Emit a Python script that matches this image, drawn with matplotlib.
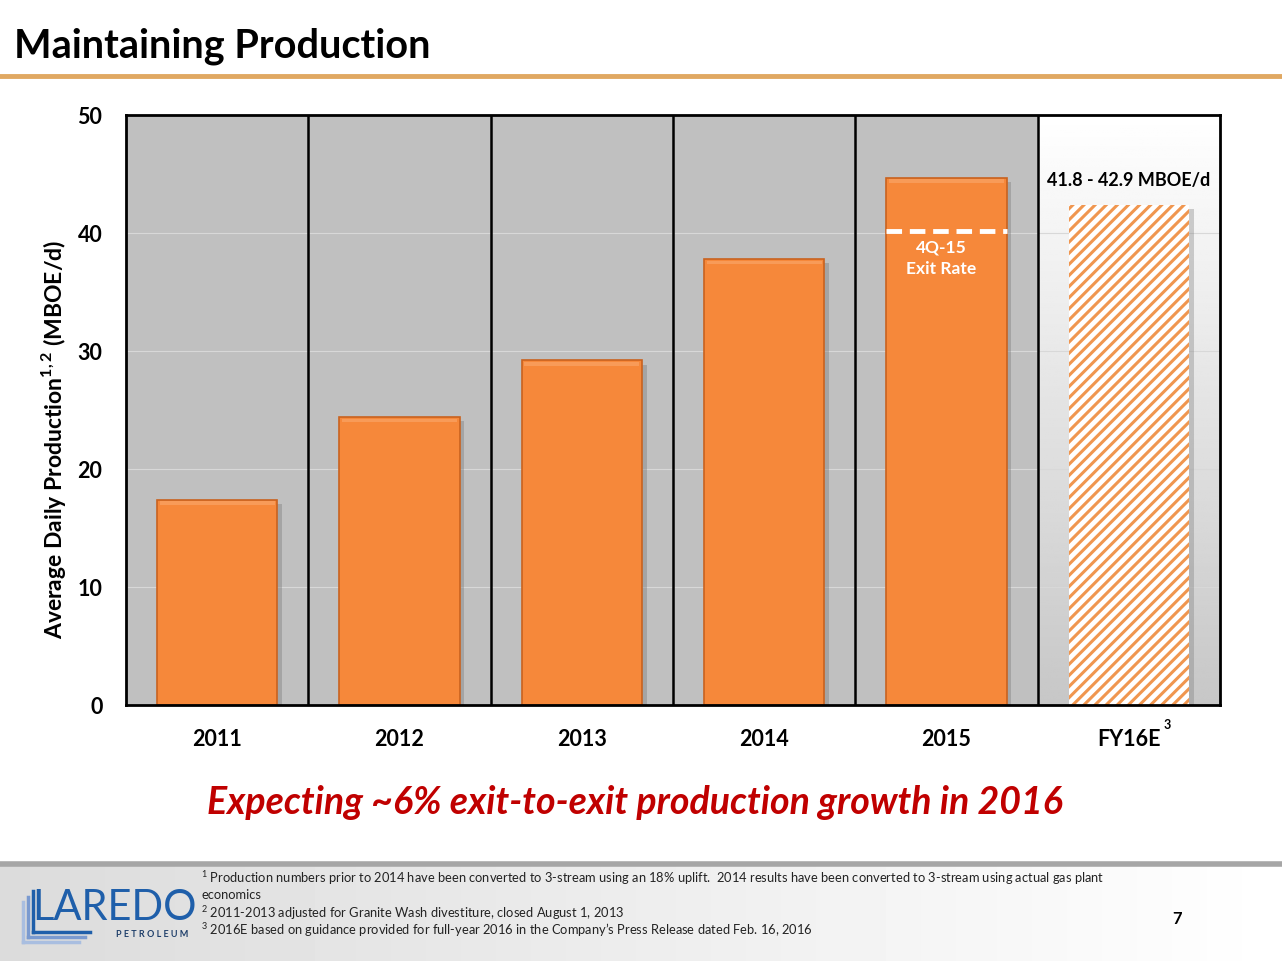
import numpy as np
import matplotlib.pyplot as plt
from matplotlib.patches import Rectangle

plt.rcParams['font.family'] = ['Lato', 'DejaVu Sans']
plt.rcParams['mathtext.fontset'] = 'custom'
plt.rcParams['mathtext.rm'] = 'Lato'
plt.rcParams['mathtext.bf'] = 'Lato:bold'
plt.rcParams['hatch.linewidth'] = 2.2

# Values
years = ['2011', '2012', '2013', '2014', '2015']
production = [17.4, 24.4, 29.2, 37.8, 44.7]
fy16_label = 'FY16E'
fy16_low = 41.8
fy16_high = 42.9
exit_rate_4q15 = 40.2
y_ticks = [0, 10, 20, 30, 40, 50]

footnotes = [
    r'$^{1}$ Production numbers prior to 2014 have been converted to 3-stream using an 18% uplift.  '
    '2014 results have been converted to 3-stream using actual gas plant',
    'economics',
    r'$^{2}$ 2011-2013 adjusted for Granite Wash divestiture, closed August 1, 2013',
    r'$^{3}$ 2016E based on guidance provided for full-year 2016 in the Company' + '\u2019'
    + 's Press Release dated Feb. 16, 2016',
]

orange = '#F6883A'
orange_dark = '#C9621F'
gray_bg = '#C0C0C0'

fig = plt.figure(figsize=(12.82, 9.61), dpi=100)
fig.patch.set_facecolor('white')

# Title and rule
fig.text(0.011, 0.952, 'Maintaining Production', fontsize=28.5, fontweight='bold',
         color='black', ha='left', va='center')
fig.add_artist(plt.Line2D([0, 1], [0.921, 0.921], color='#E0A862', lw=3.5))

# Footer band
foot = fig.add_axes([0, 0, 1, 0.1])
grad = np.linspace(0.86, 1.0, 256).reshape(1, -1)
foot.imshow(grad, cmap='gray', vmin=0, vmax=1, aspect='auto', extent=[0, 1, 0, 1])
foot.set_xlim(0, 1)
foot.set_ylim(0, 1)
foot.axis('off')
fig.add_artist(plt.Line2D([0, 1], [0.101, 0.101], color='#A6A6A6', lw=4))

# Logo
fig.text(0.025, 0.055, 'LAREDO', fontsize=30, color='#1F5FAA', ha='left', va='center')
fig.text(0.147, 0.028, 'P E T R O L E U M', fontsize=6.5, fontweight='bold', color='#1F3F6A',
         ha='right', va='center')
for i, c in enumerate(['#1F5FAA', '#7A9AD0', '#A9BEE0']):
    off = i * 0.004
    fig.add_artist(plt.Line2D([0.026 - off, 0.026 - off], [0.073 - i * 0.006, 0.030 - off * 1.3],
                              color=c, lw=2.5))
    fig.add_artist(plt.Line2D([0.026 - off, 0.07 - off], [0.030 - off * 1.3, 0.030 - off * 1.3],
                              color=c, lw=2.5))

for i, line in enumerate(footnotes):
    fig.text(0.157, 0.086 - i * 0.0178, line, fontsize=9.3, color='#222222',
             ha='left', va='center')
fig.text(0.918, 0.044, '7', fontsize=12, fontweight='bold', ha='center', va='center')

# Main chart
ax = fig.add_axes([126 / 1282, 256 / 961, 1094 / 1282, 590 / 961])
n = len(years) + 1
ax.set_xlim(-0.5, n - 0.5)
ax.set_ylim(0, 50)
ax.set_facecolor(gray_bg)

# FY16E region: white to gray gradient
vgrad = np.linspace(1.0, 0.78, 256).reshape(-1, 1)
ax.imshow(vgrad, cmap='gray', vmin=0, vmax=1, aspect='auto',
          extent=[n - 1.5, n - 0.5, 0, 50], zorder=0)

ax.set_yticks(y_ticks)
ax.set_yticklabels([str(t) for t in y_ticks], fontsize=15.5, fontweight='bold')
ax.yaxis.grid(True, color='#D8D8D8', lw=0.8, zorder=0.5)
ax.set_axisbelow(True)

for b in np.arange(0.5, n - 0.5, 1):
    ax.axvline(b, color='black', lw=1.8, zorder=1)

x = np.arange(len(years))
width = 0.66
# shadow
ax.bar(x + 0.025, production, width, bottom=-0.35, color='#7a7a7a', alpha=0.4, zorder=2)
ax.bar(x, production, width, color=orange, edgecolor=orange_dark, lw=1.2, zorder=3)
for xi, v in zip(x, production):
    ax.add_patch(Rectangle((xi - width / 2 + 0.015, v - 0.45), width - 0.03, 0.3,
                           color='#F89B58', lw=0, zorder=4))

fy16_mid = (fy16_low + fy16_high) / 2
fx = len(years)
ax.bar(fx + 0.025, fy16_mid, width, bottom=-0.35, color='#7a7a7a', alpha=0.35, zorder=2)
ax.bar(fx, fy16_mid, width, color='white', edgecolor='#F0964F', hatch='///', lw=0, zorder=3)

ax.text(fx, fy16_high + 1.55, f'{fy16_low} - {fy16_high} MBOE/d', ha='center', va='center',
        fontsize=13, fontweight='bold', color='black', zorder=5)

ax.plot([x[-1] - 0.33, x[-1] + 0.33], [exit_rate_4q15, exit_rate_4q15], color='white',
        lw=3.5, ls=(0, (3.2, 1.6)), zorder=5)
ax.text(x[-1] - 0.03, exit_rate_4q15 - 0.75, '4Q-15\nExit Rate', ha='center', va='top',
        fontsize=12.5, fontweight='bold', color='white', linespacing=1.45, zorder=5)

ax.set_xticks(list(x) + [fx])
ax.set_xticklabels(years + [fy16_label], fontsize=15.5, fontweight='bold')
ax.text(fx + 0.21, -1.7, '3', fontsize=9, fontweight='bold', ha='center', va='center',
        clip_on=False)
ax.tick_params(axis='x', length=0, pad=17)
ax.tick_params(axis='y', length=0, pad=17)

ax.set_ylabel(r'Average Daily Production$^{\mathbf{1,2}}$ (MBOE/d)',
              fontsize=16.5, fontweight='bold')
ax.yaxis.set_label_coords(-0.053, 0.45)

for s in ax.spines.values():
    s.set_color('black')
    s.set_linewidth(2)
    s.set_zorder(6)

fig.text(0.495, 0.165, 'Expecting ~6% exit-to-exit production growth in 2016', fontsize=27,
         fontweight='bold', style='italic', color='#C00000', ha='center', va='center')

fig.savefig('out.png', dpi=100)
